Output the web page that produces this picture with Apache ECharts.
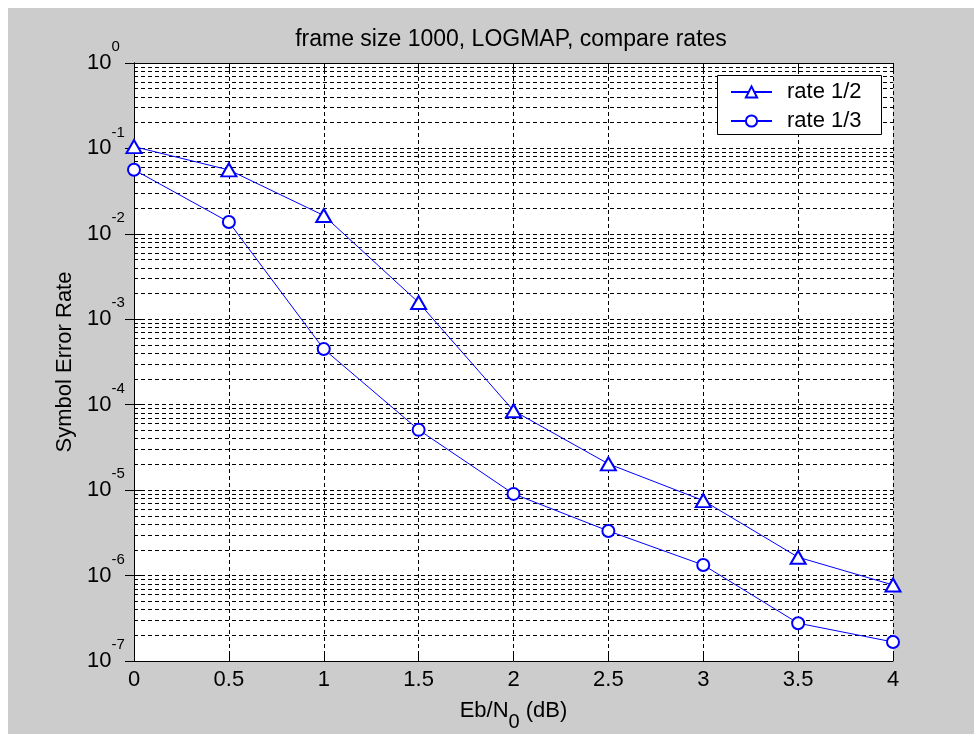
<!DOCTYPE html>
<html><head><meta charset="utf-8">
<script src="https://cdn.jsdelivr.net/npm/echarts@6/dist/echarts.min.js"></script>
<style>
html,body{margin:0;padding:0;background:#fff;}
#bg{position:absolute;left:8px;top:8px;width:966px;height:726px;background:#cccccc;}
#chart{position:absolute;left:0;top:0;width:974px;height:734px;}
</style></head><body>
<div id="bg"></div><div id="chart"></div>
<script>
const ebN0 = [0, 0.5, 1, 1.5, 2, 2.5, 3, 3.5, 4];
const rateHalf = [0.105, 0.056, 0.0164, 0.00157, 8.5e-5, 2.03e-5, 7.55e-6, 1.64e-6, 7.76e-7];
const rateThird = [0.0563, 0.01374, 4.48e-4, 5.08e-5, 9.04e-6, 3.33e-6, 1.33e-6, 2.77e-7, 1.67e-7];
const seriesNames = ['rate 1/2', 'rate 1/3'];
const decades = [-7, -6, -5, -4, -3, -2, -1];
const minorSteps = [2, 3, 4, 5, 6, 7, 8, 9];
const titleText = 'frame size 1000, LOGMAP, compare rates';
const yName = 'Symbol Error Rate';

const FONT = '"Liberation Sans", Arial, sans-serif';
const gridVals = [];
decades.forEach(e => {
  if (e > decades[0]) gridVals.push(Math.pow(10, e));
  minorSteps.forEach(k => gridVals.push(k * Math.pow(10, e)));
});

const chart = echarts.init(document.getElementById('chart'), null, {renderer: 'canvas'});
const dash = [4, 3];
const option = {
  backgroundColor: 'transparent',
  animation: false,
  title: {
    text: titleText, left: 511, top: 28, textAlign: 'center', padding: 0,
    textStyle: {fontFamily: FONT, fontSize: 23, fontWeight: 'normal', color: '#000'}
  },
  grid: {left: 134, right: 81, top: 63, bottom: 73, show: true, backgroundColor: '#fff', borderWidth: 0, outerBoundsMode: 'none'},
  legend: {
    data: seriesNames, orient: 'vertical', left: 730, top: 81, padding: 0, z: 20,
    itemWidth: 41, itemHeight: 14, itemGap: 7,
    textStyle: {fontFamily: FONT, fontSize: 22, color: '#000', padding: [0, 0, 0, 10]}
  },
  graphic: [{type: 'rect', z: 10, shape: {x: 717.5, y: 75.5, width: 164, height: 59},
    style: {fill: '#fff', stroke: '#000', lineWidth: 1}}],
  xAxis: [{
    type: 'value', min: 0, max: 4, interval: 0.5, position: 'bottom',
    name: '{a|Eb/N}{s|0}{a| (dB)}', nameLocation: 'middle', nameGap: 29,
    nameTextStyle: {fontFamily: FONT, fontSize: 22, color: '#000',
      rich: {a: {fontFamily: FONT, fontSize: 22, color: '#000'}, s: {fontFamily: FONT, fontSize: 20, color: '#000', padding: [22, 0, 0, 0]}}},
    axisLine: {show: true, lineStyle: {color: '#000', width: 1}},
    axisTick: {show: true, inside: true, length: 8, lineStyle: {color: '#000'}},
    axisLabel: {fontFamily: FONT, fontSize: 22, color: '#000', margin: 8, formatter: v => String(v)},
    splitLine: {show: true, lineStyle: {color: '#000', type: dash, width: 1}}
  }, {
    type: 'value', min: 0, max: 4, interval: 0.5, position: 'top',
    axisLine: {show: true, lineStyle: {color: '#000', width: 1}},
    axisTick: {show: true, inside: true, length: 8, lineStyle: {color: '#000'}},
    axisLabel: {show: false}, splitLine: {show: false}
  }],
  yAxis: [{
    type: 'log', logBase: 10, min: 1e-7, max: 1, position: 'left',
    name: yName, nameLocation: 'middle', nameGap: 54,
    nameTextStyle: {fontFamily: FONT, fontSize: 22, color: '#000'},
    axisLine: {show: true, lineStyle: {color: '#000', width: 1}},
    axisTick: {show: true, inside: true, length: 9, lineStyle: {color: '#000'}},
    axisLabel: {
      align: 'left', margin: 47,
      formatter: v => '{b|10}{s|' + Math.round(Math.log10(v)) + '}',
      rich: {
        b: {fontFamily: FONT, fontSize: 22, color: '#000'},
        s: {fontFamily: FONT, fontSize: 15, color: '#000', padding: [0, 0, 32, 0]}
      }
    },
    splitLine: {show: false}
  }, {
    type: 'log', logBase: 10, min: 1e-7, max: 1, position: 'right',
    axisLine: {show: true, lineStyle: {color: '#000', width: 1}},
    axisTick: {show: true, inside: true, length: 9, lineStyle: {color: '#000'}},
    axisLabel: {show: false}, splitLine: {show: false}
  }],
  series: [{
    name: 'grid', type: 'line', data: [], silent: true, z: 1,
    markLine: {silent: true, z: 1, symbol: 'none', animation: false, precision: 20, label: {show: false},
      lineStyle: {color: '#000', type: dash, width: 1},
      emphasis: {disabled: true},
      data: gridVals.map(v => ({yAxis: v}))}
  }, {
    name: seriesNames[0], type: 'line', data: ebN0.map((x, i) => [x, rateHalf[i]]),
    symbol: 'emptyTriangle', symbolSize: [15, 13], z: 5,
    lineStyle: {color: '#0000ff', width: 1},
    itemStyle: {color: '#0000ff', borderColor: '#0000ff', borderWidth: 1}
  }, {
    name: seriesNames[1], type: 'line', data: ebN0.map((x, i) => [x, rateThird[i]]),
    symbol: 'emptyCircle', symbolSize: 12, z: 5,
    lineStyle: {color: '#0000ff', width: 1},
    itemStyle: {color: '#0000ff', borderColor: '#0000ff', borderWidth: 1}
  }]
};
chart.setOption(option);
</script>
</body></html>
